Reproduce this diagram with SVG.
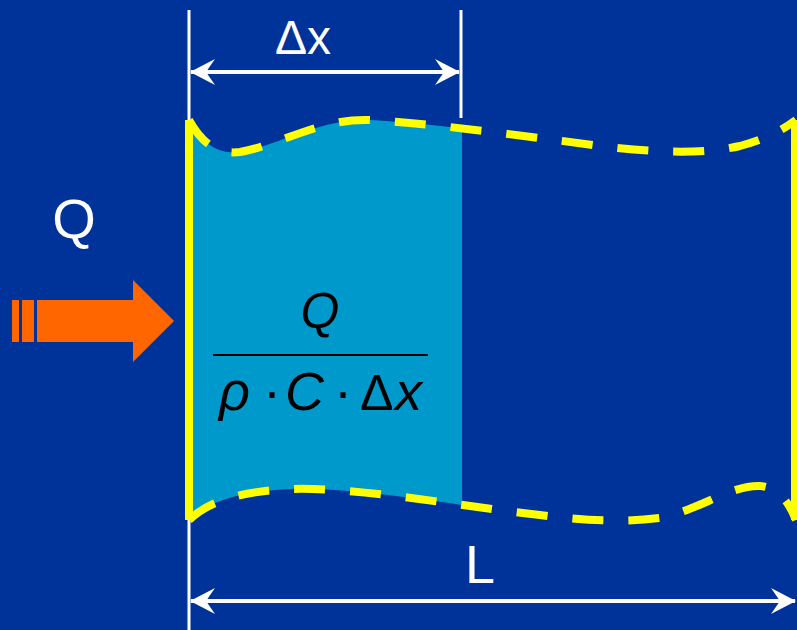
<svg xmlns="http://www.w3.org/2000/svg" width="797" height="630" viewBox="0 0 797 630">
<style>
.dim{stroke:#FFFFFF;stroke-width:4;fill:none}
.ext{stroke:#FFFFFF;stroke-width:3;fill:none}
.wlabel{fill:#FFFFFF;font-family:"Liberation Sans",Arial,sans-serif}
.math{fill:#000000;font-family:"Liberation Sans",Arial,sans-serif;font-size:54px}
.it{font-style:italic}
.edge{stroke:#FFFF00;stroke-width:8;fill:none}
.dash{stroke:#FFFF00;stroke-width:8;fill:none;stroke-dasharray:31 25}
</style>
<defs>
<marker id="arr" viewBox="0 0 25 26" refX="24" refY="13" markerWidth="25" markerHeight="26" markerUnits="userSpaceOnUse" orient="auto-start-reverse">
<path d="M0,0 L25,13 L0,26 L9,13 Z" fill="#FFFFFF"/>
</marker>
<clipPath id="slice"><rect x="189" y="0" width="273" height="630"/></clipPath>
</defs>
<rect x="0" y="0" width="797" height="630" fill="#003399"/>
<g id="element">
<path clip-path="url(#slice)" fill="#0099CC" d="M189,120 C200,140 215,155 240,152 C280,145 320,118 370,120 C430,123 540,138 600,146 C650,152 700,155 740,146 C770,138 785,128 796,120 L796,520 C790,505 780,487 760,486 C730,485 700,510 660,518 C620,523 580,520 540,515 C450,505 360,487 290,489 C230,492 205,505 189,520 Z"/>
</g>
<g id="connectors">
<line class="ext" x1="189" y1="10" x2="189" y2="630"/>
<line class="ext" x1="461" y1="10" x2="461" y2="118"/>
<line class="dim" x1="191" y1="72" x2="459" y2="72" marker-start="url(#arr)" marker-end="url(#arr)"/>
<line class="dim" x1="191" y1="601" x2="795" y2="601" marker-start="url(#arr)" marker-end="url(#arr)"/>
</g>
<g id="tube">
<path class="dash" d="M189,120 C200,140 215,155 240,152 C280,145 320,118 370,120 C430,123 540,138 600,146 C650,152 700,155 740,146 C770,138 785,128 796,120"/>
<path class="dash" d="M189,520 C205,505 230,492 290,489 C360,487 450,505 540,515 C580,520 620,523 660,518 C700,510 730,485 760,486 C780,487 790,505 796,520"/>
<line class="edge" x1="189" y1="120" x2="189" y2="520"/>
<line class="edge" x1="795" y1="120" x2="795" y2="520"/>
</g>
<g id="heat-arrow">
<rect x="12" y="300" width="7" height="42" fill="#FF6600"/>
<rect x="22" y="300" width="12" height="42" fill="#FF6600"/>
<polygon points="37,300 133,300 133,280 174,321 133,362 133,342 37,342" fill="#FF6600"/>
</g>
<g id="label-Q">
<text class="wlabel" x="74" y="238" font-size="56" text-anchor="middle">Q</text>
</g>
<g id="label-dx">
<text class="wlabel" x="303" y="54" font-size="48" text-anchor="middle">Δx</text>
</g>
<g id="label-L">
<text class="wlabel" x="480" y="583" font-size="54" text-anchor="middle">L</text>
</g>
<g id="formula">
<text class="math it" x="320" y="328" style="font-size:50px" text-anchor="middle">Q</text>
<line x1="213" y1="355" x2="428" y2="355" stroke="#000000" stroke-width="2"/>
<text class="math it" x="219" y="410">ρ</text>
<text class="math" x="263" y="410">·</text>
<text class="math it" x="285" y="410">C</text>
<text class="math" x="334" y="410">·</text>
<text class="math" x="360" y="410" style="font-size:50px">Δ</text>
<text class="math it" x="395" y="410">x</text>
</g>
</svg>
